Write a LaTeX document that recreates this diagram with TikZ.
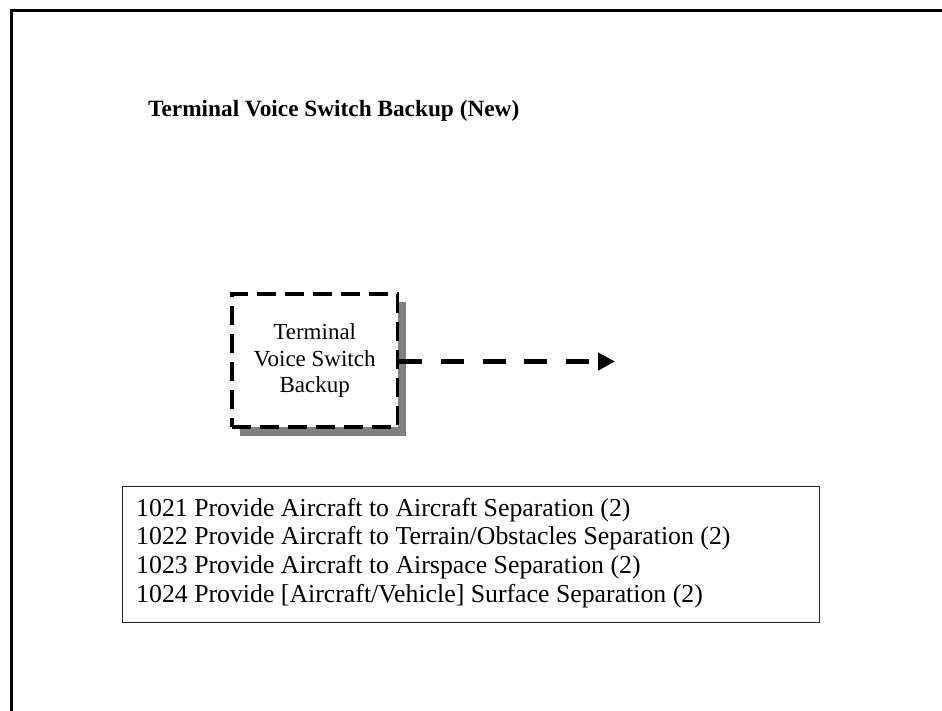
\documentclass[tikz,border=0pt]{standalone}
\usepackage{fontspec}
\setmainfont{Liberation Serif}
\usetikzlibrary{arrows.meta}
\tikzset{
  frameline/.style={line width=3pt, line cap=rect},
  dashbox/.style={draw=black, fill=white, line width=3.2pt, dash pattern=on 19pt off 9pt,
    minimum width=165.5pt, minimum height=133pt, inner sep=0pt, align=center,
    font=\fontsize{23}{26.5}\selectfont},
  shadowbox/.style={fill=black!50, draw=none},
  flowarrow/.style={line width=5pt, dash pattern=on 23pt off 18.7pt,
    -{Triangle[length=17pt,width=17pt]}},
  listline/.style={anchor=base west, inner sep=0pt, font=\fontsize{25.8}{28.7}\selectfont},
  titletext/.style={anchor=base west, inner sep=0pt, font=\fontsize{23.3}{26}\selectfont\bfseries}
}
\begin{document}
\begin{tikzpicture}[x=1pt,y=-1pt]
\useasboundingbox (0,0) rectangle (942,711);
% frame (only top and left edges visible)
\draw[frameline] (11.5,711) -- (11.5,10.5) -- (942,10.5);
% title
\node[titletext] (title) at (148,116.7) {Terminal Voice Switch Backup (New)};
% shadow and box
\fill[shadowbox] (240,302) rectangle (406,436);
\node[dashbox] (tvs) at (314.75,360.5) {Terminal\\Voice Switch\\Backup};
\coordinate (tip) at (615,361.5);
\draw[flowarrow] (tvs.east |- tip) -- (tip);
% list box
\node[draw=black!85, line width=1pt, minimum width=697pt, minimum height=136pt, anchor=north west, inner sep=0pt] (listbox) at (122,486) {};
\node[listline] (l1) at (136,516) {1021 Provide Aircraft to Aircraft Separation (2)};
\node[listline] (l2) at (136,544.7) {1022 Provide Aircraft to Terrain/Obstacles Separation (2)};
\node[listline] (l3) at (136,573.4) {1023 Provide Aircraft to Airspace Separation (2)};
\node[listline] (l4) at (136,602) {1024 Provide [Aircraft/Vehicle] Surface Separation (2)};
\end{tikzpicture}
\end{document}
